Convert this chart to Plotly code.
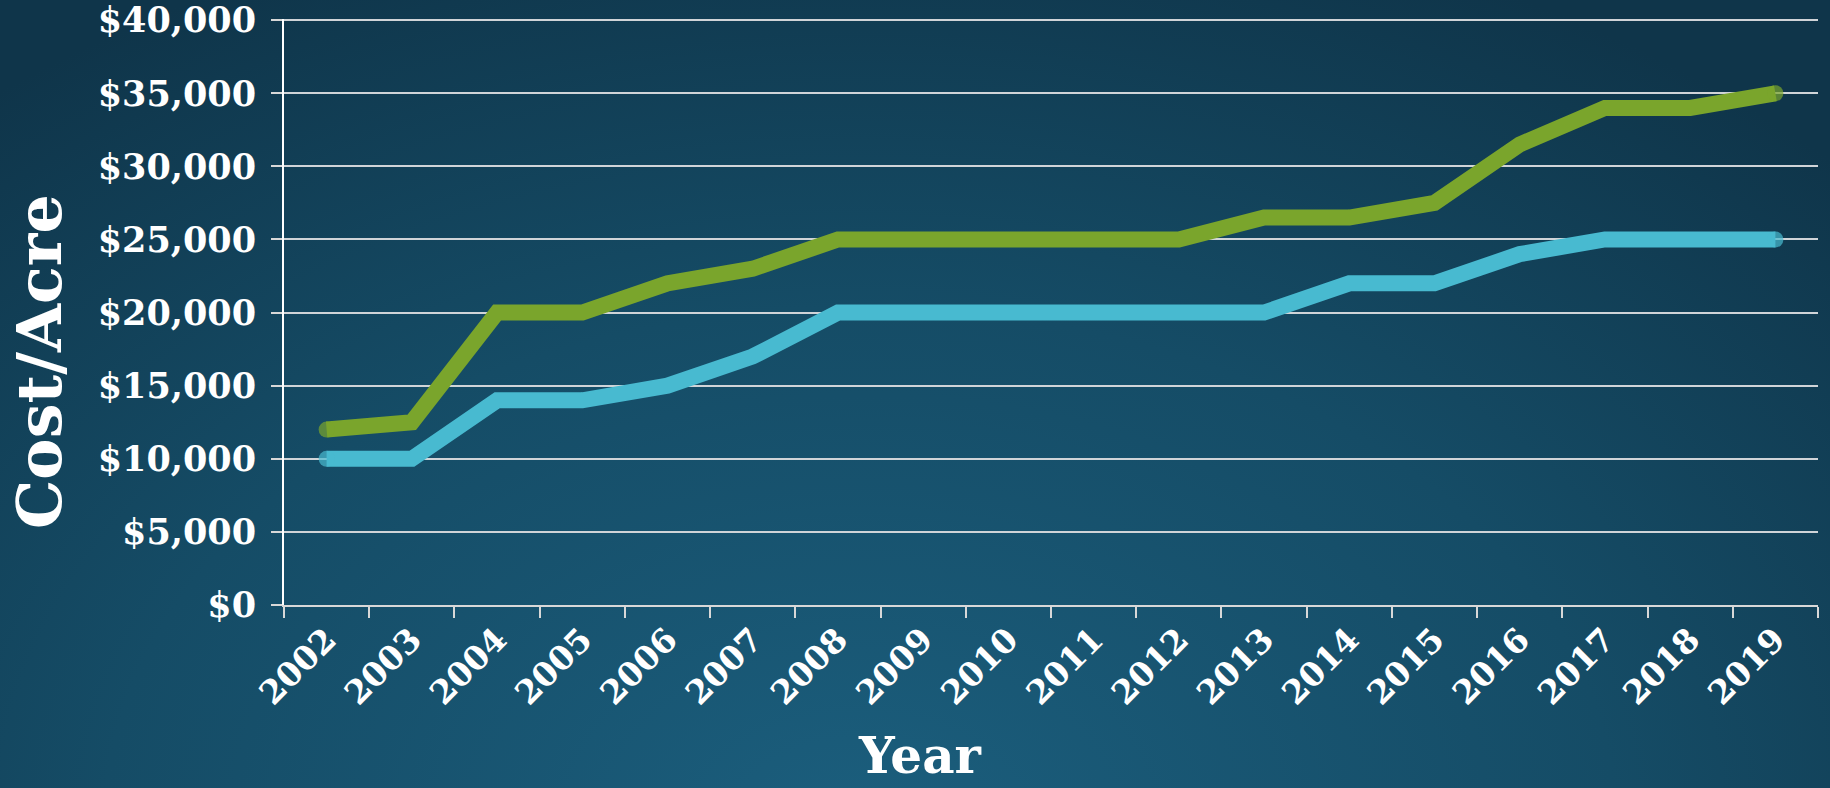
import base64
import plotly.graph_objects as go

years = [str(y) for y in range(2002, 2020)]
upper_cost = [12000, 12500, 20000, 20000, 22000, 23000, 25000, 25000, 25000,
              25000, 25000, 26500, 26500, 27500, 31500, 34000, 34000, 35000]
lower_cost = [10000, 10000, 14000, 14000, 15000, 17000, 20000, 20000, 20000,
              20000, 20000, 20000, 22000, 22000, 24000, 25000, 25000, 25000]
y_ticks = [0, 5000, 10000, 15000, 20000, 25000, 30000, 35000, 40000]
y_tick_text = ["$0", "$5,000", "$10,000", "$15,000", "$20,000", "$25,000",
               "$30,000", "$35,000", "$40,000"]

W, H = 1830, 788
L, R, T, B = 284, 12, 19, 183
PW, PH = W - L - R, H - T - B
FONT = "DejaVu Serif"
GREEN = "#7aa52c"
BLUE = "#48bad0"
LW = 16
Y_MAX = 40080

svg = f'''<svg xmlns="http://www.w3.org/2000/svg" width="{W}" height="{H}" viewBox="0 0 {W} {H}" preserveAspectRatio="none">
<defs><radialGradient id="g" cx="0.47" cy="1.05" r="0.75" gradientTransform="translate(0.47,1.05) scale(1,1.6) translate(-0.47,-1.05)">
<stop offset="0" stop-color="#1b5e7d"/><stop offset="0.55" stop-color="#154c66"/><stop offset="1" stop-color="#0f354a"/>
</radialGradient></defs><rect width="{W}" height="{H}" fill="url(#g)"/></svg>'''
bg_src = "data:image/svg+xml;base64," + base64.b64encode(svg.encode()).decode()


def end_sizes(n):
    return [LW] + [0] * (n - 2) + [LW]


fig = go.Figure()
fig.add_trace(go.Scatter(x=years, y=lower_cost, mode="lines+markers",
                         line=dict(color=BLUE, width=LW),
                         marker=dict(color=BLUE, size=end_sizes(len(years)), line=dict(width=0)),
                         showlegend=False, hoverinfo="x+y"))
fig.add_trace(go.Scatter(x=years, y=upper_cost, mode="lines+markers",
                         line=dict(color=GREEN, width=LW),
                         marker=dict(color=GREEN, size=end_sizes(len(years)), line=dict(width=0)),
                         showlegend=False, hoverinfo="x+y"))

fig.update_layout(
    width=W, height=H,
    margin=dict(l=L, r=R, t=T, b=B),
    paper_bgcolor="#12405a", plot_bgcolor="rgba(0,0,0,0)",
    font=dict(family=FONT, color="white"),
    images=[dict(source=bg_src, xref="paper", yref="paper", x=-L / PW, y=1 + T / PH,
                 sizex=W / PW, sizey=H / PH, xanchor="left", yanchor="top",
                 sizing="stretch", layer="below")],
    xaxis=dict(type="category", tickson="boundaries", ticks="outside", ticklen=11,
               tickcolor="#d8d8d8", tickwidth=2, showline=True, linecolor="#d8d8d8", linewidth=2,
               showgrid=False, tickangle=-45, automargin=False, ticklabeloverflow="allow",
               tickfont=dict(family=FONT, size=33, color="white", weight="bold"),
               range=[-0.5, len(years) - 0.5]),
    yaxis=dict(range=[0, Y_MAX], tickvals=y_ticks, ticktext=y_tick_text,
               ticks="outside", ticklen=11, tickcolor="#d8d8d8", tickwidth=2,
               showline=True, linecolor="white", linewidth=2, automargin=False,
               ticklabeloverflow="allow", ticklabelstandoff=8,
               showgrid=True, gridcolor="#d0d4d8", gridwidth=2, zeroline=False,
               tickfont=dict(family=FONT, size=35, color="white", weight="bold")),
    annotations=[
        dict(text="<b>Cost/Acre</b>", xref="paper", yref="paper",
             x=(40 - L) / PW, y=(H - B - 362) / PH,
             textangle=-90, showarrow=False, xanchor="center", yanchor="middle",
             font=dict(family=FONT, size=62, color="white")),
        dict(text="<b>Year</b>", xref="paper", yref="paper",
             x=(920 - L) / PW, y=(H - B - 787) / PH,
             showarrow=False, xanchor="center", yanchor="bottom",
             font=dict(family=FONT, size=50, color="white")),
    ],
)

fig.write_html("out.html", config={"displayModeBar": False},
               post_script="document.body.style.margin='0';document.body.style.overflow='hidden';")
